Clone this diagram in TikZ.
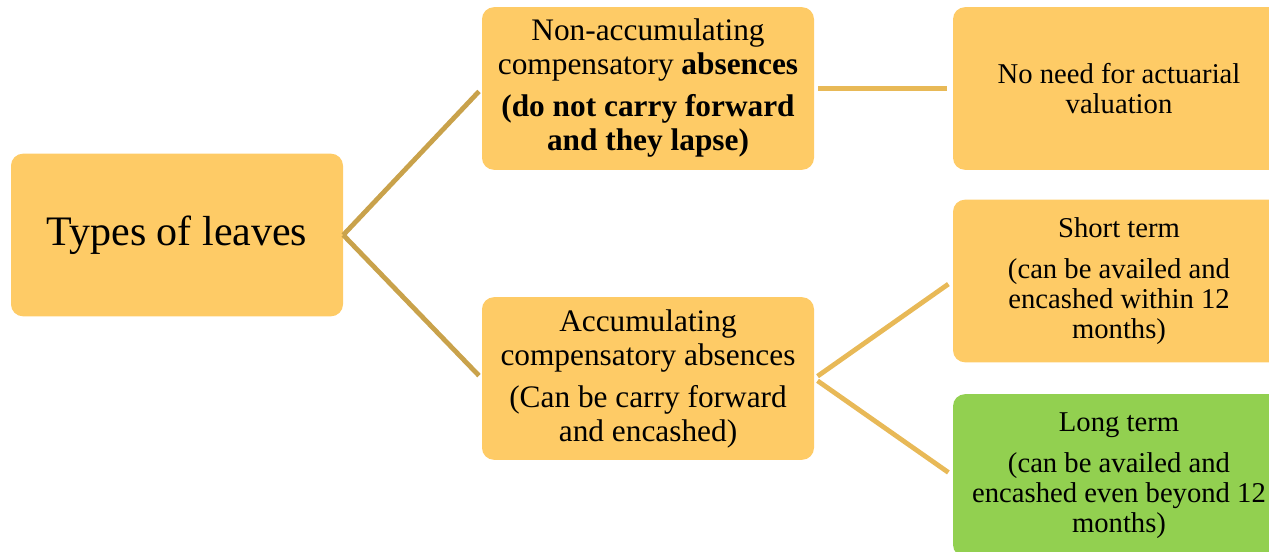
\documentclass[tikz,border=0pt]{standalone}
\usepackage{fontspec}
\setmainfont{Liberation Serif}
\usepackage{xcolor}
\usepackage{tikz}
\definecolor{leafgold}{HTML}{FECB66}
\definecolor{leafgreen}{HTML}{92D050}
\definecolor{linkdark}{HTML}{C9A24B}
\definecolor{linklight}{HTML}{E8B957}
\tikzstyle{leafbox} = [fill=leafgold, rectangle, rounded corners=9pt,
minimum width=249pt, minimum height=122pt, align=center, inner sep=0pt]
\tikzstyle{midtext} = [font=\fontsize{23.5}{25.5}\selectfont]
\tikzstyle{sidetext} = [font=\fontsize{21.5}{22.5}\selectfont]
\tikzstyle{rootlink} = [draw=linkdark, line width=3.6pt, shorten >=3pt]
\tikzstyle{sidelink} = [draw=linklight, line width=3.6pt, shorten <=3pt, shorten >=4pt]

\begin{document}
\begin{tikzpicture}[x=0.75pt, y=-0.75pt]
        \useasboundingbox (0,0) rectangle (1269,552);
        \clip (0,0) rectangle (1269,552);
        % left: the root box
        \node [leafbox, font=\fontsize{31.5}{34}\selectfont] (root) at (177,235) {Types of leaves};
        % middle column
        \node [leafbox, midtext] (nonacc) at (648,88.5) {%
            Non-accumulating\\
            compensatory \textbf{absences}\\[6pt]
            \textbf{(do not carry forward}\\
            \textbf{and they lapse)}};
        \node [leafbox, midtext] (acc) at (648,378.5) {%
            Accumulating\\
            compensatory absences\\[6pt]
            (Can be carry forward\\
            and encashed)};
        % right column
        \node [leafbox, sidetext] (noval) at (1119,88.5) {No need for actuarial\\ valuation};
        \node [leafbox, sidetext] (shortt) at (1119,281) {%
            Short term\\[8pt]
            (can be availed and\\
            encashed within 12\\
            months)};
        \node [leafbox, sidetext, fill=leafgreen] (longt) at (1119,475.5) {%
            Long term\\[8pt]
            (can be availed and\\
            encashed even beyond 12\\
            months)};
        % connectors
        \draw [rootlink] (root.east) -- (nonacc.west);
        \draw [rootlink] (root.east) -- (acc.west);
        \draw [sidelink] (nonacc.east) -- (noval.west);
        \draw [sidelink] (acc.east) -- (shortt.west);
        \draw [sidelink] (acc.east) -- (longt.west);
    \end{tikzpicture}
\end{document}
